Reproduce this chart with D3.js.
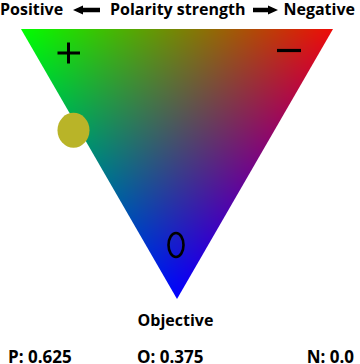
<!DOCTYPE html>
<html><head><meta charset="utf-8">
<script src="https://cdn.jsdelivr.net/npm/d3@7"></script>
<style>
html,body{margin:0;padding:0;background:#fff;}
svg{display:block;}
text{font-family:"Open Sans",sans-serif;font-weight:bold;fill:#000;}
</style></head>
<body>
<script>
// ---- data ----
const cornerNames = ["Positive", "Negative", "Objective"];
const cornerColors = ["#00ff00", "#ee0c08", "#0000ff"];
const scoreKeys = ["P", "O", "N"];
const scoreValues = [0.625, 0.375, 0.0];
const scoreText = ["0.625", "0.375", "0.0"];
const axisTitle = "Polarity strength";

const W = 360, H = 364;
// x: polarity position (0 = positive, 1 = negative); y: objectivity (0 top, 1 bottom)
const x = d3.scaleLinear().domain([0, 1]).range([21, 333]);
const y = d3.scaleLinear().domain([0, 1]).range([29, 299]);

const P = scoreValues[0], O = scoreValues[1], N = scoreValues[2];
const verts = [[x(0), y(0)], [x(1), y(0)], [x(0.5), y(1)]];

const svg = d3.select("body").append("svg").attr("width", W).attr("height", H);

// barycentric colour fill rendered to an offscreen canvas
const cv = document.createElement("canvas");
cv.width = W; cv.height = H;
const ctx = cv.getContext("2d");
const img = ctx.createImageData(W, H);
const cols = cornerColors.map(c => d3.rgb(c));
const [A, B, C] = verts;
const det = (B[1] - C[1]) * (A[0] - C[0]) + (C[0] - B[0]) * (A[1] - C[1]);
for (let py = 0; py < H; py++) {
  for (let px = 0; px < W; px++) {
    const sx = px + 0.5, sy = py + 0.5;
    let l1 = ((B[1] - C[1]) * (sx - C[0]) + (C[0] - B[0]) * (sy - C[1])) / det;
    let l2 = ((C[1] - A[1]) * (sx - C[0]) + (A[0] - C[0]) * (sy - C[1])) / det;
    l1 = Math.max(0, Math.min(1, l1)); l2 = Math.max(0, Math.min(1, l2));
    let l3 = Math.max(0, 1 - l1 - l2);
    const s = l1 + l2 + l3;
    l1 /= s; l2 /= s; l3 /= s;
    const i = (py * W + px) * 4;
    img.data[i] = l1 * cols[0].r + l2 * cols[1].r + l3 * cols[2].r;
    img.data[i + 1] = l1 * cols[0].g + l2 * cols[1].g + l3 * cols[2].g;
    img.data[i + 2] = l1 * cols[0].b + l2 * cols[1].b + l3 * cols[2].b;
    img.data[i + 3] = 255;
  }
}
ctx.putImageData(img, 0, 0);

svg.append("clipPath").attr("id", "tri")
  .append("path").attr("d", "M" + verts.map(v => v.join(",")).join("L") + "Z");
svg.append("image").attr("href", cv.toDataURL()).attr("x", 0).attr("y", 0)
  .attr("width", W).attr("height", H).attr("clip-path", "url(#tri)");

// corner symbols
const g = svg.append("g").attr("stroke", "#000").attr("fill", "none");
g.append("path").attr("d", "M57.5,53H80M68.5,42.5V63.5").attr("stroke-width", 3);
g.append("path").attr("d", "M277,50.5H301").attr("stroke-width", 3.2);
g.append("ellipse").attr("cx", x(0.5) - 1).attr("cy", 245).attr("rx", 7.5).attr("ry", 12).attr("stroke-width", 2.6);

// marker for the scores
svg.append("ellipse")
  .attr("cx", x(N + O / 2) - 6).attr("cy", y(O))
  .attr("rx", 16).attr("ry", 17.5).attr("fill", "#b9b428");

// top labels
svg.append("text").attr("x", 0).attr("y", 15).attr("font-size", 16).text(cornerNames[0]);
svg.append("text").attr("x", 110).attr("y", 15).attr("font-size", 16).text(axisTitle);
svg.append("text").attr("x", 355).attr("y", 15).attr("text-anchor", "end").attr("font-size", 16).text(cornerNames[1]);

// arrows
const arrow = (x0, x1, dir) => {
  const tip = dir < 0 ? x0 : x1, base = dir < 0 ? x0 + 10 : x1 - 10, tail = dir < 0 ? x1 : x0;
  const yc = 10;
  return `M${tip},${yc}L${base},${yc - 4.5}L${base},${yc - 2.2}L${tail},${yc - 2.2}L${tail},${yc + 2.2}L${base},${yc + 2.2}L${base},${yc + 4.5}Z`;
};
svg.append("path").attr("d", arrow(73, 100, -1)).attr("fill", "#000");
svg.append("path").attr("d", arrow(253, 278, 1)).attr("fill", "#000");

// bottom label
svg.append("text").attr("x", x(0.5) - 1.5).attr("y", 326).attr("text-anchor", "middle").attr("font-size", 16).text(cornerNames[2]);

// scores
const scoreX = [8, 137, 354];
const scoreAnchor = ["start", "start", "end"];
svg.selectAll("text.score").data(scoreKeys).join("text").attr("class", "score")
  .attr("x", (d, i) => scoreX[i]).attr("y", 363)
  .attr("text-anchor", (d, i) => scoreAnchor[i]).attr("font-size", 17)
  .text((d, i) => d + ": " + scoreText[i]);
</script>
</body></html>
